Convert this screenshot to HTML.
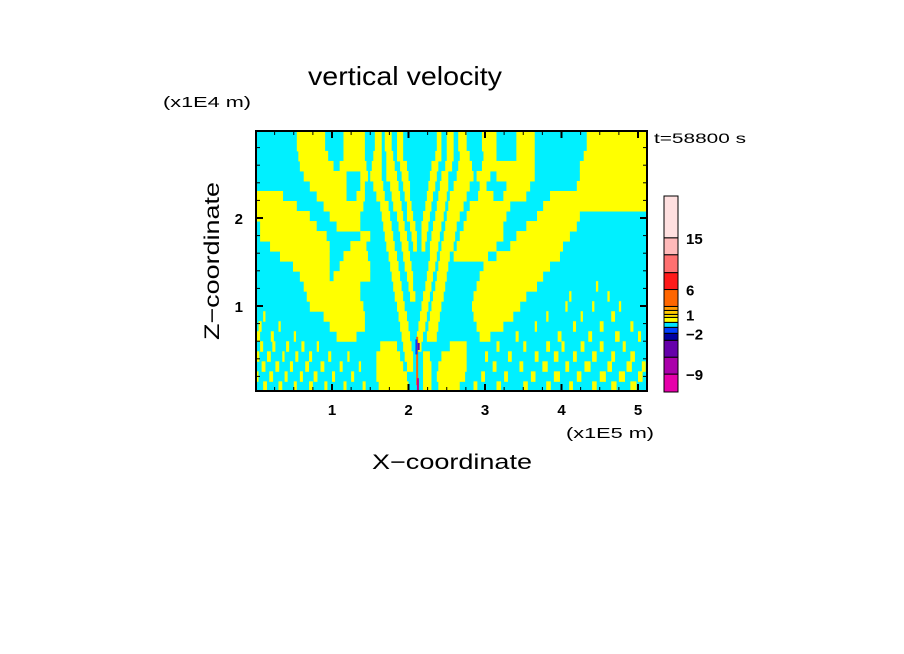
<!DOCTYPE html>
<html><head><meta charset="utf-8"><style>
body{margin:0;background:#fff;}
svg{display:block;font-family:"Liberation Sans",sans-serif;}
</style></head><body>
<svg id="chart" width="904" height="654" viewBox="0 0 904 654" xmlns="http://www.w3.org/2000/svg">
<rect width="904" height="654" fill="#fff"/>
<text x="308" y="85" font-size="26" textLength="194" lengthAdjust="spacingAndGlyphs">vertical velocity</text>
<text x="163" y="107" font-size="15" textLength="88" lengthAdjust="spacingAndGlyphs">(x1E4 m)</text>
<text x="654" y="143" font-size="14" textLength="92" lengthAdjust="spacingAndGlyphs">t=58800 s</text>
<text x="566" y="438" font-size="15" textLength="88" lengthAdjust="spacingAndGlyphs">(x1E5 m)</text>
<text x="372" y="469" font-size="21" textLength="160" lengthAdjust="spacingAndGlyphs">X−coordinate</text>
<text transform="translate(219,340) rotate(-90)" font-size="21" textLength="158" lengthAdjust="spacingAndGlyphs">Z−coordinate</text>
<defs><clipPath id="pc"><rect x="256" y="131" width="391" height="260"/></clipPath></defs>
<g id="plot"></g>
<g id="axes"></g>
<g id="cbar"></g>
</svg>
<script>
// x in units of 1E4 m, z in 1E4 m
const rowsTop = 2.99, rowsBottom = 0.03;
const yellowRows = [
[[5.4,9.1],[11.5,14.3],[15.6,16.5],[16.9,17.8],[18.5,19.3],[23.7,24.3],[25.0,25.9],[26.5,27.6],[29.6,31.5],[34.1,36.5],[43.3,51.2]],
[[5.4,9.1],[11.5,14.3],[15.6,16.5],[16.9,17.8],[18.5,19.3],[23.7,24.3],[25.0,25.9],[26.5,27.6],[29.6,31.5],[34.1,36.5],[43.3,51.2]],
[[5.6,9.5],[11.5,14.3],[15.4,16.5],[17.1,18.0],[18.5,19.3],[23.5,24.3],[25.0,25.9],[26.7,28.0],[29.8,31.5],[34.1,36.5],[42.9,51.2]],
[[5.8,10.2],[11.0,14.5],[15.2,16.5],[17.1,18.2],[18.9,19.8],[23.0,23.9],[24.8,25.7],[26.5,28.3],[29.6,36.5],[42.4,51.2]],
[[6.3,11.9],[13.7,14.7],[15.0,16.5],[17.1,18.5],[19.1,20.0],[22.8,23.7],[24.3,25.2],[26.3,28.5],[28.9,30.7],[31.5,36.5],[42.4,51.2]],
[[7.1,11.9],[13.7,14.3],[15.4,16.7],[17.6,18.7],[19.3,20.2],[22.6,23.5],[24.1,25.2],[25.9,28.0],[29.3,30.2],[32.8,35.9],[42.0,51.2]],
[[0,3.6],[8.0,11.9],[13.2,14.3],[15.8,16.9],[17.8,18.9],[19.5,20.2],[22.4,23.2],[23.9,25.0],[25.4,27.6],[29.1,31.1],[32.4,35.4],[38.5,51.2]],
[[0,5.4],[8.9,14.1],[16.3,17.4],[18.0,19.1],[19.8,20.4],[22.2,23.0],[23.7,24.8],[25.2,27.2],[28.0,33.3],[37.6,51.2]],
[[0,7.1],[9.7,13.7],[16.5,17.6],[18.5,19.3],[19.8,20.6],[21.9,22.8],[23.5,24.6],[25.0,26.7],[27.6,32.8],[36.8,42.4]],
[[0.6,8.0],[10.6,13.7],[16.7,17.8],[18.7,19.5],[20.2,20.9],[21.7,22.6],[23.2,24.3],[24.8,26.3],[27.2,32.4],[35.4,42.0]],
[[0.6,9.3],[13.7,15.0],[16.9,18.0],[18.9,19.8],[20.4,21.1],[21.7,22.4],[23.0,24.1],[24.6,26.1],[26.7,32.4],[34.1,41.1]],
[[1.9,9.7],[12.4,14.5],[17.1,18.2],[19.1,20.0],[20.6,21.1],[21.7,22.2],[22.8,23.9],[24.3,25.9],[26.3,31.5],[33.3,40.2]],
[[3.2,9.7],[11.5,14.7],[17.4,18.5],[19.3,20.2],[22.8,23.7],[24.1,25.4],[25.9,30.4],[31.5,39.8]],
[[4.9,9.7],[11.0,15.0],[17.6,18.7],[19.5,20.4],[22.6,23.5],[23.9,25.2],[29.8,38.5]],
[[5.8,9.7],[10.2,15.0],[17.8,18.9],[19.8,20.6],[22.4,23.2],[23.7,25.0],[29.3,37.6]],
[[6.3,13.7],[18.0,19.1],[20.0,20.6],[22.2,23.0],[23.5,24.8],[28.9,36.8],[44.5,44.8]],
[[6.7,13.7],[18.2,19.3],[20.2,20.9],[21.9,22.8],[23.2,24.6],[28.5,35.4],[41.0,41.3],[46.0,46.3]],
[[7.1,14.1],[18.5,19.5],[21.7,22.6],[23.0,24.3],[28.3,34.6],[40.5,40.8],[44.0,44.3],[47.5,47.8]],
[[1.0,1.3],[8.9,14.3],[18.7,19.8],[21.5,22.4],[22.8,24.1],[28.5,33.7],[38.0,38.3],[42.5,42.8],[46.5,47.0]],
[[0.4,0.8],[3.0,3.3],[9.7,14.3],[18.9,20.0],[21.3,22.2],[22.6,23.9],[28.9,32.4],[36.5,36.8],[41.5,41.9],[45.0,45.5],[49.0,49.4]],
[[0.2,0.6],[2.0,2.4],[5.0,5.3],[10.6,13.2],[19.1,20.2],[21.1,21.9],[22.4,23.7],[29.3,30.7],[34.0,34.4],[39.5,40.0],[43.5,44.0],[47.0,47.6],[50.0,50.4]],
[[0.6,1.0],[2.2,2.6],[4.0,4.4],[6.0,6.4],[8.0,8.3],[16.3,18.5],[19.3,20.4],[20.9,21.7],[25.4,27.6],[31.5,31.9],[35.0,35.4],[38.0,38.5],[40.0,40.4],[42.5,43.0],[45.0,45.5],[48.0,48.4]],
[[0,0.5],[1.5,2.0],[3.5,3.8],[5.2,5.6],[7.0,7.4],[9.5,9.9],[12.0,12.3],[15.8,18.9],[19.5,20.6],[21.9,22.8],[24.3,27.6],[30.0,30.4],[33.0,33.5],[36.5,37.0],[39.0,39.6],[41.5,42.0],[44.0,44.6],[46.5,47.0],[49.0,49.6]],
[[0.8,1.3],[2.6,3.1],[4.5,4.9],[6.5,7.0],[8.5,9.0],[11.0,11.4],[13.5,13.8],[15.8,19.3],[19.8,20.6],[21.9,23.0],[23.9,27.6],[31.0,31.5],[34.5,35.0],[37.5,38.2],[40.5,41.0],[43.0,43.8],[46.0,46.6],[48.5,49.2],[50.5,51.0]],
[[0,0.4],[1.8,2.3],[3.8,4.2],[5.8,6.2],[7.6,8.1],[10.0,10.4],[12.5,12.9],[15.8,19.8],[21.9,23.0],[23.7,27.4],[29.5,30.0],[32.5,33.0],[36.0,36.6],[39.0,39.8],[42.0,42.6],[45.0,45.8],[47.5,48.3],[50.0,50.6]],
[[1.0,1.5],[3.0,3.5],[5.0,5.4],[7.0,7.5],[9.0,9.4],[11.5,11.9],[14.0,14.4],[16.1,20.0],[21.9,23.0],[23.9,26.7],[28.5,29.0],[31.5,32.1],[35.0,35.6],[38.0,38.6],[41.0,41.5],[44.0,44.6],[46.5,47.2],[49.0,49.8]]
];
// strong updraft/downdraft streak near x=2.1E5
const streakX = [21.0, 20.9, 21.2, 21.1];
const streakZ0 = [0.1, 0.45, 0.5, 0.03];
const streakZ1 = [0.65, 0.62, 0.58, 0.18];
const streakColor = ['#ff6600', '#0040ff', '#6600aa', '#cc0088'];
// colorbar (bottom to top)
const cbarColors = ['#e600aa','#aa00aa','#6600aa','#0000a0','#0040ff','#00e5ff','#ffff00','#ffe000','#ffc800','#ff9a00','#ff6600','#ff1a1a','#ff7070','#ffbaba','#ffe0e0'];
const cbarHeights = [18,17,17,7,6,5,5,3,4,4,17,17,18,17,42];
const cbarLabels = ['−9','−2','1','6','15'];
const cbarLabelIdx = [1,4,8,11,14];
const xTicks = [1,2,3,4,5];
const zTicks = [1,2];

const NS='http://www.w3.org/2000/svg';
function mk(t,a,p){const e=document.createElementNS(NS,t);for(const k in a)e.setAttribute(k,a[k]);p.appendChild(e);return e;}
const X0=255.5, XS=76.5;
function sx(v){return X0+XS*v/10;}
function sxU(u){return X0+XS*u;}
function sz(z){return 394-88*z;}
const plot=document.getElementById('plot');
plot.setAttribute('clip-path','url(#pc)');
const bg=mk('rect',{x:256,y:131,width:391,height:260,fill:'#00f0ff'},plot);


const nR=yellowRows.length, dz=(rowsTop-rowsBottom)/nR;
yellowRows.forEach((row,r)=>{
  const zt=rowsTop-r*dz, zb=zt-dz;
  row.forEach(iv=>{
    const c=mk('rect',{x:sx(iv[0]),y:sz(zt),width:Math.max(1,sx(iv[1])-sx(iv[0])),height:sz(zb)-sz(zt)+0.5,fill:'#ffff00'},plot);
    
    
  });
});
streakX.forEach((x,i)=>{
  const s=mk('rect',{x:sx(x),y:sz(streakZ1[i]),width:2,height:sz(streakZ0[i])-sz(streakZ1[i]),fill:streakColor[i]},plot);
  
  
});
const ax=document.getElementById('axes');
const fr=mk('rect',{x:256,y:131,width:391,height:260,fill:'none',stroke:'#000','stroke-width':2},ax);


for(let i=1;i<=20;i++){const u=i*0.25;if(u>5.12)break;const L=(i%4===0)?7:4;const x=sxU(u);
  mk('line',{x1:x,y1:391,x2:x,y2:391-L,stroke:'#000','stroke-width':L>4?2:1},ax);
  mk('line',{x1:x,y1:131,x2:x,y2:131+L,stroke:'#000','stroke-width':L>4?2:1},ax);}
for(let i=1;i<=14;i++){const z=i*0.2;const y=sz(z);if(y<132)break;const L=(i%5===0)?7:4;
  mk('line',{x1:256,y1:y,x2:256+L,y2:y,stroke:'#000','stroke-width':L>4?2:1},ax);
  mk('line',{x1:647,y1:y,x2:647-L,y2:y,stroke:'#000','stroke-width':L>4?2:1},ax);}
xTicks.forEach(t=>{const e=mk('text',{x:sxU(t),y:415,'font-size':15,'font-weight':'bold','text-anchor':'middle'},ax);e.textContent=t;
  
  });
zTicks.forEach(t=>{const e=mk('text',{x:243,y:sz(t)+6,'font-size':15,'font-weight':'bold','text-anchor':'end'},ax);e.textContent=t;
  
  });
const cb=document.getElementById('cbar');
const total=cbarHeights.reduce((a,b)=>a+b,0);
const sc=196/total;
let y=392; const bottoms=[];
cbarColors.forEach((c,i)=>{bottoms.push(y);const h=cbarHeights[i]*sc;y-=h;
  const s=mk('rect',{x:664,y:y,width:14,height:h,fill:c,stroke:'#000','stroke-width':1},cb);
  
  });
cbarLabels.forEach((l,i)=>{const yy=bottoms[cbarLabelIdx[i]];
  const e=mk('text',{x:686,y:yy+6,'font-size':15,'font-weight':'bold'},cb);e.textContent=l;
  
  });
</script>
</body></html>
